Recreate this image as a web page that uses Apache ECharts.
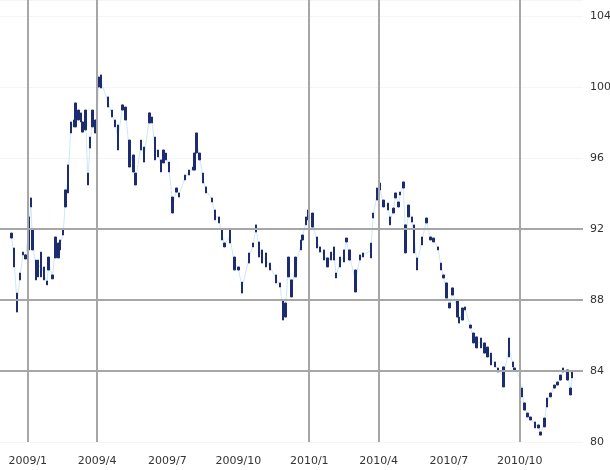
<!DOCTYPE html>
<html>
<head>
<meta charset="utf-8">
<script src="https://cdn.jsdelivr.net/npm/echarts@6/dist/echarts.min.js"></script>
<style>
  html, body { margin: 0; background: #fff; }
  #chart { width: 610px; height: 470px; }
</style>
</head>
<body>
<div id="chart"></div>
<script>
// bar dates with their high / low
const dates = [
  '2008-12-11', '2008-12-14', '2008-12-18', '2008-12-22', '2008-12-26', '2008-12-29', '2009-01-02', '2009-01-05', '2009-01-07', '2009-01-12',
  '2009-01-14', '2009-01-18', '2009-01-22', '2009-01-26', '2009-01-28', '2009-02-02', '2009-02-06', '2009-02-10', '2009-02-12', '2009-02-16',
  '2009-02-19', '2009-02-22', '2009-02-26', '2009-03-02', '2009-03-04', '2009-03-08', '2009-03-11', '2009-03-13', '2009-03-17', '2009-03-20',
  '2009-03-23', '2009-03-26', '2009-03-30', '2009-04-01', '2009-04-03', '2009-04-06', '2009-04-15', '2009-04-20', '2009-04-24', '2009-04-28',
  '2009-05-04', '2009-05-08', '2009-05-13', '2009-05-18', '2009-05-21', '2009-05-28', '2009-06-01', '2009-06-08', '2009-06-11', '2009-06-15',
  '2009-06-19', '2009-06-23', '2009-06-26', '2009-06-29', '2009-07-03', '2009-07-08', '2009-07-13', '2009-07-16', '2009-07-24', '2009-07-29',
  '2009-08-03', '2009-08-05', '2009-08-08', '2009-08-12', '2009-08-16', '2009-08-20', '2009-08-28', '2009-09-01', '2009-09-06', '2009-09-10',
  '2009-09-13', '2009-09-20', '2009-09-26', '2009-10-01', '2009-10-06', '2009-10-15', '2009-10-20', '2009-10-24', '2009-10-28', '2009-11-01',
  '2009-11-06', '2009-11-11', '2009-11-19', '2009-11-24', '2009-11-28', '2009-12-01', '2009-12-05', '2009-12-09', '2009-12-14', '2009-12-21',
  '2009-12-23', '2009-12-28', '2009-12-31', '2010-01-05', '2010-01-11', '2010-01-15', '2010-01-20', '2010-01-25', '2010-01-29', '2010-02-02',
  '2010-02-05', '2010-02-10', '2010-02-15', '2010-02-18', '2010-02-22', '2010-03-02', '2010-03-08', '2010-03-12', '2010-03-22', '2010-03-25',
  '2010-03-30', '2010-04-02', '2010-04-07', '2010-04-13', '2010-04-16', '2010-04-20', '2010-04-23', '2010-04-27', '2010-04-29', '2010-05-03',
  '2010-05-06', '2010-05-10', '2010-05-14', '2010-05-17', '2010-05-21', '2010-05-27', '2010-06-02', '2010-06-07', '2010-06-11', '2010-06-17',
  '2010-06-21', '2010-06-24', '2010-06-28', '2010-07-02', '2010-07-06', '2010-07-12', '2010-07-14', '2010-07-19', '2010-07-22', '2010-07-29',
  '2010-08-02', '2010-08-06', '2010-08-12', '2010-08-16', '2010-08-20', '2010-08-25', '2010-08-30', '2010-09-03', '2010-09-10', '2010-09-17',
  '2010-09-22', '2010-09-24', '2010-10-01', '2010-10-04', '2010-10-07', '2010-10-11', '2010-10-15', '2010-10-21', '2010-10-25', '2010-10-28',
  '2010-11-02', '2010-11-05', '2010-11-10', '2010-11-15', '2010-11-19', '2010-11-23', '2010-11-26', '2010-12-02', '2010-12-06', '2010-12-08'
]
const highs = [
  91.77, 90.93, 88.39, 89.52, 90.70, 90.54, 92.68, 93.75, 91.94, 90.25,
  90.25, 90.70, 89.86, 89.07, 90.42, 89.41, 91.55, 91.21, 91.38, 91.94,
  94.20, 95.61, 98.03, 98.14, 99.10, 98.70, 98.54, 98.03, 98.70, 95.15,
  97.18, 98.70, 98.14, 98.87, 100.56, 100.68, 99.44, 98.70, 98.14, 97.86,
  98.99, 98.87, 97.01, 96.17, 95.15, 97.01, 96.62, 98.54, 98.31, 97.18,
  96.45, 95.89, 96.45, 96.28, 95.77, 93.80, 94.31, 94.03, 95.04, 95.32,
  95.49, 96.28, 97.41, 96.28, 95.15, 94.37, 93.75, 93.07, 92.68, 91.94,
  91.21, 91.94, 90.42, 89.86, 89.01, 90.65, 91.21, 92.23, 91.27, 90.82,
  90.65, 90.08, 89.41, 88.96, 88.00, 87.83, 90.42, 89.13, 90.42, 91.38,
  91.66, 92.68, 93.07, 92.90, 91.55, 90.99, 90.82, 90.37, 90.70, 90.99,
  89.52, 90.42, 90.82, 91.49, 90.82, 89.69, 90.54, 90.65, 91.21, 92.90,
  94.31, 94.59, 93.63, 93.46, 92.68, 93.18, 94.03, 93.52, 94.08, 94.65,
  92.23, 93.35, 92.68, 92.23, 90.37, 91.55, 92.62, 91.55, 91.49, 90.99,
  90.08, 89.41, 88.96, 87.83, 88.68, 88.00, 87.04, 87.55, 87.61, 86.59,
  86.14, 85.92, 85.86, 85.58, 85.35, 85.01, 84.51, 84.17, 84.23, 85.86,
  84.51, 84.17, 83.77, 83.04, 82.20, 81.63, 81.41, 81.13, 80.96, 80.56,
  81.35, 82.48, 82.76, 83.21, 83.38, 83.77, 84.17, 84.06, 83.04, 83.94
]
const lows = [
  91.49, 89.86, 87.32, 89.13, 90.54, 90.31, 90.82, 93.24, 90.82, 89.13,
  89.30, 89.30, 89.13, 88.85, 89.69, 89.19, 90.37, 90.37, 90.82, 91.66,
  93.24, 94.03, 97.41, 97.75, 97.75, 98.14, 98.03, 97.46, 97.58, 94.48,
  96.56, 97.75, 97.41, 98.14, 100.00, 99.94, 98.87, 98.31, 97.75, 96.45,
  98.70, 98.14, 95.49, 95.21, 94.48, 96.45, 95.77, 97.97, 97.97, 95.89,
  96.06, 95.21, 95.72, 95.89, 95.21, 92.90, 94.08, 93.80, 94.76, 95.04,
  95.32, 95.32, 96.28, 95.89, 94.59, 94.03, 93.52, 92.51, 92.34, 91.38,
  90.99, 91.21, 89.69, 89.69, 88.39, 90.08, 90.99, 91.83, 90.42, 90.08,
  89.86, 89.69, 88.96, 88.73, 86.87, 87.04, 89.30, 88.17, 89.30, 90.82,
  91.38, 92.23, 92.51, 92.11, 90.93, 90.70, 90.25, 89.86, 90.25, 90.25,
  89.24, 89.86, 90.14, 91.27, 90.25, 88.45, 90.25, 90.42, 90.37, 92.62,
  93.63, 94.20, 93.24, 93.07, 92.23, 92.90, 93.75, 93.24, 93.92, 94.31,
  90.65, 92.68, 92.39, 90.65, 89.69, 91.10, 92.34, 91.38, 91.27, 90.82,
  89.69, 89.24, 88.11, 87.55, 88.28, 87.04, 86.70, 86.87, 87.44, 86.42,
  85.58, 85.30, 85.30, 85.01, 84.79, 84.34, 84.23, 83.94, 83.10, 84.79,
  84.23, 84.06, 83.49, 82.54, 81.80, 81.41, 81.24, 80.79, 80.79, 80.39,
  80.85, 81.97, 82.54, 83.04, 83.21, 83.49, 83.94, 83.49, 82.65, 83.61
]

const gridDates = ['2009-01-01', '2009-04-01', '2010-01-01', '2010-04-01', '2010-10-01']
const gridLevels = [84, 88, 92]

const DAY = 24 * 3600 * 1000
const bars = dates.map((d, i) => [d, highs[i], lows[i], lows[i], highs[i]])
const mids = dates.map((d, i) => [d, (highs[i] + lows[i]) / 2])

const chart = echarts.init(document.getElementById('chart'))

chart.setOption({
  animation: false,
  backgroundColor: '#fff',
  textStyle: { fontFamily: 'DejaVu Sans' },
  grid: {
    left: 0,
    right: 27,
    top: 0,
    bottom: 28,
    outerBoundsMode: 'none'
  },
  xAxis: {
    type: 'time',
    min: '2008-11-26',
    max: '2010-12-22',
    minInterval: 85 * DAY,
    maxInterval: 95 * DAY,
    axisLine: { show: false },
    axisTick: { show: false },
    splitLine: { show: false },
    axisLabel: {
      fontSize: 11,
      color: '#333',
      margin: 14,
      showMinLabel: false,
      showMaxLabel: false,
      formatter: v => {
        const d = new Date(v)
        return d.getFullYear() + '/' + (d.getMonth() + 1)
      }
    }
  },
  yAxis: {
    type: 'value',
    position: 'right',
    min: 80,
    max: 104.9,
    interval: 4,
    axisLine: { show: false },
    axisTick: { show: false },
    splitLine: { show: true, lineStyle: { color: '#f5f5f5', width: 1 } },
    axisLabel: {
      showMaxLabel: false,
      fontSize: 11,
      color: '#333',
      margin: 7
    }
  },
  series: [
    {
      name: 'trend',
      type: 'line',
      data: mids,
      symbol: 'none',
      silent: true,
      lineStyle: { color: '#cde9f6', width: 1 },
      z: 1,
      markLine: {
        silent: true,
        symbol: 'none',
        label: { show: false },
        lineStyle: { color: '#a6a6a6', width: 2, type: 'solid' },
        data: gridDates.map(d => ({ xAxis: d })).concat(gridLevels.map(v => ({ yAxis: v })))
      }
    },
    {
      name: 'price',
      type: 'candlestick',
      data: bars,
      encode: { x: 0, y: [1, 2, 3, 4] },
      barWidth: 2,
      z: 3,
      itemStyle: {
        color: '#1d2c70',
        color0: '#1d2c70',
        borderColor: '#1d2c70',
        borderColor0: '#1d2c70',
        borderWidth: 1
      }
    }
  ]
})
</script>
</body>
</html>
